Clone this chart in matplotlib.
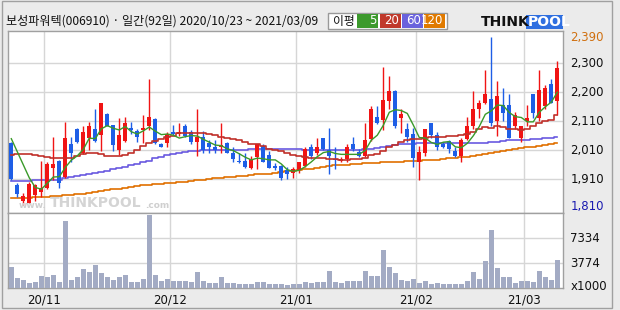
import numpy as np
import matplotlib
matplotlib.use('Agg')
from matplotlib import pyplot as plt
from matplotlib.patches import Rectangle

plt.rcParams['font.family'] = ['Noto Sans CJK KR', 'DejaVu Sans']

# daily candles 2020/10/23 ~ 2021/03/09 (92 days)
opens = [2024,1881,1827,1820,1846,1856,1870,1939,1964,1909,2022,2074,1990,2044,2074,2054,
         2124,2087,2001,2033,2078,2068,2070,2085,2107,2021,2024,2063,2055,2085,2063,2030,
         2045,2025,2013,2013,2024,1990,1962,1963,1939,1978,2016,1984,1946,1946,1932,1923,
         1932,1946,2010,1992,2044,2001,1970,1964,1969,2022,1994,1981,2039,2114,2105,2171,
         2206,2113,2074,2056,1961,1992,2093,2053,2022,2032,1996,1982,2040,2085,2141,2164,
         2177,2102,2156,2156,2082,2044,2102,2194,2110,2151,2229,2171]
highs = [2027,1886,1852,1892,1884,1963,1961,2047,1967,2099,2047,2077,2085,2097,2143,2163,
         2128,2087,2110,2114,2098,2075,2121,2246,2110,2024,2064,2087,2095,2089,2070,2143,
         2067,2036,2036,2094,2027,2010,1990,1990,1982,2022,2021,1999,1955,1950,1944,1944,
         1961,2013,2022,2044,2044,2076,2010,1976,2022,2045,2005,2095,2151,2151,2286,2256,
         2208,2143,2093,2076,2015,2074,2095,2064,2029,2036,2013,2041,2114,2205,2174,2277,
         2390,2239,2214,2194,2133,2084,2156,2194,2277,2225,2246,2306]
lows = [1898,1840,1810,1817,1827,1840,1866,1898,1870,1904,1961,2024,1987,2001,2030,1999,
        2082,1999,1984,2030,2056,2029,2024,2070,2022,2010,2010,2052,2050,2045,2022,1982,
        1992,1992,1992,1992,1990,1961,1955,1939,1935,1935,1958,1938,1932,1898,1902,1904,
        1921,1944,1969,1984,2001,1919,1935,1961,1958,1999,1978,1976,2033,2091,2070,2143,
        2076,2061,2030,1944,1898,1982,2041,2001,2007,1992,1978,1961,2036,2074,2110,2160,
        2085,2050,2102,2044,2072,2030,2085,2110,2102,2141,2162,2120]
closes = [1902,1850,1843,1884,1881,1870,1953,1953,1889,2041,1992,2030,2063,2083,2032,2163,
          2085,2018,2052,2093,2070,2045,2076,2114,2024,2013,2055,2055,2063,2050,2030,2045,
          2001,2013,2001,2018,1992,1971,1959,1941,1970,2022,1961,1940,1940,1904,1919,1935,
          1959,2005,1981,2010,2004,1982,1967,1969,2010,2004,1982,2036,2143,2095,2174,2205,
          2085,2125,2045,1973,1993,2074,2051,2010,2013,2004,1982,2036,2084,2143,2163,2194,
          2095,2187,2130,2044,2122,2084,2112,2130,2208,2214,2164,2285]
volumes = [3053,1440,1247,758,954,1834,1590,1980,954,9900,1247,1687,2860,2323,3447,2274,
           1590,1247,1590,1980,851,851,1394,10780,1980,1100,1394,998,998,998,851,2323,
           998,704,704,1687,704,704,557,557,557,954,954,557,557,557,411,557,
           557,851,704,851,851,2567,851,704,998,998,998,2567,1834,1834,5648,3154,
           2171,1247,998,1394,704,998,557,704,557,557,557,557,1100,2420,1394,4034,
           8582,3007,1687,1687,704,998,998,851,2567,1590,1247,4181]

# moving averages as drawn
ma5 = [2040,1995,1950,1905,1872,1866,1886,1908,1909,1941,1966,1981,2003,2042,2040,2074,
       2085,2076,2070,2082,2064,2056,2067,2080,2066,2054,2056,2052,2042,2047,2051,2049,
       2038,2028,2018,2016,2005,1999,1988,1976,1967,1973,1971,1967,1967,1953,1933,1928,
       1931,1944,1960,1978,1992,1996,1989,1986,1986,1986,1986,2000,2035,2052,2086,2131,
       2140,2137,2127,2087,2044,2042,2027,2020,2028,2030,2012,2009,2024,2050,2082,2124,
       2136,2156,2154,2130,2116,2113,2098,2098,2131,2150,2166,2200]
ma20 = [1984,1986,1987,1987,1985,1980,1976,1973,1972,1972,1974,1980,1986,1990,1990,1987,
        1982,1979,1980,1984,1992,2002,2014,2025,2032,2039,2045,2050,2058,2059,2061,2061,
        2058,2055,2053,2046,2041,2039,2034,2027,2022,2021,2015,2006,2002,1997,1990,1984,
        1979,1976,1974,1972,1972,1971,1969,1967,1967,1969,1970,1975,1984,1987,1998,2011,
        2018,2030,2036,2038,2039,2043,2046,2046,2047,2048,2049,2052,2056,2063,2072,2080,
        2077,2082,2080,2072,2073,2071,2075,2083,2093,2100,2106,2120]
ma60 = [1895,1895,1895,1895,1896,1896,1897,1897,1898,1903,1908,1912,1916,1920,1923,1926,
        1930,1935,1940,1944,1948,1952,1958,1964,1972,1978,1984,1988,1992,1995,1997,1999,
        2000,2000,2000,2001,2001,2001,2001,2002,2005,2006,2006,2006,2006,2006,2005,2004,
        2003,2002,2002,2002,2002,2002,2002,2002,2002,2002,2002,2003,2004,2008,2013,2016,
        2018,2020,2022,2023,2024,2024,2024,2024,2025,2025,2025,2025,2025,2025,2025,2026,
        2028,2030,2032,2034,2035,2036,2036,2038,2040,2042,2043,2045]
ma120 = [1834,1835,1836,1837,1838,1839,1840,1841,1843,1845,1847,1849,1851,1853,1856,1859,
         1862,1865,1868,1871,1874,1877,1879,1881,1883,1885,1886,1888,1890,1892,1895,1897,
         1899,1901,1903,1905,1907,1909,1911,1913,1915,1917,1918,1920,1922,1925,1927,1930,
         1932,1935,1937,1940,1943,1945,1948,1950,1951,1952,1954,1955,1956,1957,1958,1959,
         1960,1961,1962,1963,1964,1965,1966,1968,1970,1972,1974,1976,1978,1981,1984,1988,
         1991,1995,1998,2001,2004,2007,2010,2012,2015,2018,2021,2024]

month_idx = [6, 27, 48, 68, 86]
month_labels = ['20/11', '20/12', '21/01', '21/02', '21/03']
price_grid = [2300, 2200, 2100, 2000, 1900]
price_labels = ['2,300', '2,200', '2,110', '2,010', '1,910']
vol_ticks = [0, 3667, 7334]
vol_labels = ['x1000', '3774', '7334']

W, H = 620, 310
fig = plt.figure(figsize=(6.2, 3.1), dpi=100, facecolor='#ebebeb')

def fx(px):
    return px / W

def fy(py):
    return 1 - py / H

ax = fig.add_axes([fx(8), fy(213), fx(555), 182 / H], facecolor='white')
axv = fig.add_axes([fx(8), fy(288), fx(555), 75 / H], facecolor='white')

n = len(closes)
x = np.arange(n)
up_c, dn_c = '#f01414', '#1e5ee6'
for i in range(n):
    o, h, l, c = opens[i], highs[i], lows[i], closes[i]
    col = up_c if c >= o else dn_c
    ax.vlines(i, l, h, color=col, lw=1, zorder=3)
    b = max(abs(c - o), 3)
    ax.add_patch(Rectangle((i - 0.36, min(o, c)), 0.72, b, facecolor=col,
                           edgecolor='none', zorder=4))

ax.plot(x, ma120, color='#e07000', lw=1.2, drawstyle='steps-mid', zorder=2)
ax.plot(x, ma60, color='#6a5ae0', lw=1.2, drawstyle='steps-mid', zorder=2)
ax.plot(x, ma20, color='#c0302a', lw=1.2, drawstyle='steps-mid', zorder=5)
ax.plot(x, ma5, color='#3a9a2a', lw=1.0, zorder=5)

axv.bar(x, volumes, width=0.8, color='#a3abc4', zorder=3)

for a in (ax, axv):
    a.set_xlim(-0.55, 91.95)
    a.set_xticks([m - 0.5 for m in month_idx])
    a.grid(True, color='#d6d6d6', lw=1, zorder=0)
    a.tick_params(length=0, labelleft=False, labelbottom=False)
    for s in a.spines.values():
        s.set_color('#a0a0a0')
        s.set_linewidth(1)

ax.set_ylim(1784, 2411)
ax.set_yticks(price_grid)
axv.set_ylim(0, 11030)
axv.set_yticks(vol_ticks[1:])

lab_kw = dict(fontsize=8.5, ha='left', va='center', family=['DejaVu Sans'])
for v, t in zip(price_grid, price_labels):
    ax.text(1.013, v, t, transform=ax.get_yaxis_transform(), color='#111111', **lab_kw)
ax.text(1.013, 2390, '2,390', transform=ax.get_yaxis_transform(), color='#d07010', **lab_kw)
ax.text(1.013, 1808, '1,810', transform=ax.get_yaxis_transform(), color='#1a1ab0', **lab_kw)
for v, t in zip(vol_ticks, vol_labels):
    axv.text(1.013, v + (250 if v == 0 else 0), t, transform=axv.get_yaxis_transform(),
             color='#111111', **lab_kw)
for m, t in zip(month_idx, month_labels):
    axv.text(m - 0.5, -0.16, t, transform=axv.get_xaxis_transform(), ha='center',
             va='center', fontsize=8.5, family=['DejaVu Sans'], color='#111111')

# watermark
fig.text(fx(47), fy(205), 'www.', fontsize=6.5, color='#cfcfcf', va='center', ha='right',
         weight='bold', family=['DejaVu Sans'])
fig.text(fx(50), fy(203), 'THINKPOOL', fontsize=10, color='#d4d4d4', va='center',
         weight='bold', family=['DejaVu Sans'])
fig.text(fx(145), fy(205), '.com', fontsize=6.5, color='#cfcfcf', va='center',
         weight='bold', family=['DejaVu Sans'])

# header
fig.text(fx(6), fy(21), '보성파워텍(006910) · 일간(92일) 2020/10/23 ~ 2021/03/09',
         fontsize=8.7, va='center', color='#111111')
fig.patches.append(Rectangle((fx(328), fy(29)), fx(119), 16 / H, transform=fig.transFigure,
                             facecolor='white', edgecolor='#999999', lw=1))
fig.text(fx(333), fy(21), '이평', fontsize=8.5, va='center', color='#111111')
legend_items = [('5', '#3d9a2d', 357, 21), ('20', '#c0392b', 380, 21),
                ('60', '#6a62dc', 402, 21), ('120', '#e07a00', 424, 21)]
for t, col, x0, w in legend_items:
    fig.patches.append(Rectangle((fx(x0), fy(28)), fx(w), 14 / H, transform=fig.transFigure,
                                 facecolor=col, edgecolor='none'))
    fig.text(fx(x0 + w - 2), fy(21), t, fontsize=8.5, ha='right', va='center',
             color='white', family=['DejaVu Sans'])

# logo
fig.text(fx(481), fy(22), 'THINK', fontsize=10, weight='bold', va='center',
         color='#111111', family=['DejaVu Sans'])
fig.patches.append(Rectangle((fx(526), fy(29)), fx(37), 14 / H, transform=fig.transFigure,
                             facecolor='#2f6fe0', edgecolor='none'))
fig.text(fx(528), fy(22), 'POOL', fontsize=10, weight='bold', va='center',
         color='white', family=['DejaVu Sans'])

# outer frame
fig.patches.append(Rectangle((fx(2), fy(308)), fx(610), 307 / H, transform=fig.transFigure,
                             facecolor='none', edgecolor='#a0a0a0', lw=1))

fig.savefig('out.png', dpi=100, facecolor=fig.get_facecolor())
